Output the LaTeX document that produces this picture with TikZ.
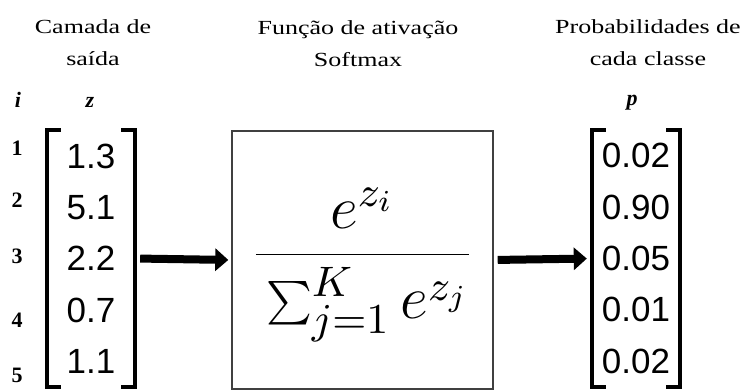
\RequirePackage{fix-cm}
\documentclass[tikz,border=0pt]{standalone}
\usepackage{graphicx}
\usepackage[no-math]{fontspec}
\setmainfont{Liberation Serif}
\newfontfamily\titlefont{Liberation Serif}[FakeStretch=1.3]
\newfontfamily\numfont{Liberation Sans}
\usetikzlibrary{arrows.meta,positioning}

\begin{document}
\begin{tikzpicture}[
    x=1pt, y=1pt,
    title/.style={align=center, inner sep=0pt, anchor=north,
                  font=\titlefont\fontsize{20}{32}\selectfont},
    idx/.style={inner sep=0pt, font=\bfseries\fontsize{22}{22}\selectfont},
    vec/.style={align=center, inner sep=0pt, minimum width=88pt,
                minimum height=257pt, font=\numfont\fontsize{35}{51.3}\selectfont},
    brk/.style={line width=4pt},
    softbox/.style={draw=black!75, line width=1.4pt, minimum width=261pt,
                    minimum height=258pt, inner sep=0pt},
    arrow/.style={-{Triangle[length=13pt,width=22pt]}, line width=8pt}
]
\useasboundingbox (0,0) rectangle (746,390);

% titles
\node[title] (tout)  at (93,371)  {Camada de\\saída};
\node[title] (tsoft) at (358,370) {Função de ativação\\Softmax};
\node[title] (tprob) at (648,371) {Probabilidades de\\cada classe};

% column heads
\node[idx] (hi) at (18,290)  {\itshape i};
\node[idx] (hz) at (90,288)  {\itshape z};
\node[idx] (hp) at (632,287) {\itshape p};

% index numbers
\node[idx] (i1) at (17,242) {1};
\node[idx] (i2) at (17,190) {2};
\node[idx] (i3) at (17,134) {3};
\node[idx] (i4) at (17,70)  {4};
\node[idx] (i5) at (17,15)  {5};

% vectors and softmax box
\node[vec] (zvec) at (91,131.5)  {1.3\\5.1\\2.2\\0.7\\1.1};
\node[softbox] (soft) at (362.5,130) {};
\node[vec] (pvec) at (636,131.5) {0.02\\0.90\\0.05\\0.01\\0.02};
\node[font=\fontsize{14}{16}\selectfont] (frac) at ([yshift=-5pt]soft.center)
    {\scalebox{4.35}{$\displaystyle\frac{e^{z_i}}{\rule{0pt}{13.3pt}\sum_{j=1}^{K} e^{z_j}}$}};

% brackets
\draw[brk] ([xshift=14pt]zvec.north west) -- (zvec.north west)
    -- (zvec.south west) -- ([xshift=14pt]zvec.south west);
\draw[brk] ([xshift=-14pt]zvec.north east) -- (zvec.north east)
    -- (zvec.south east) -- ([xshift=-14pt]zvec.south east);
\draw[brk] ([xshift=14pt]pvec.north west) -- (pvec.north west)
    -- (pvec.south west) -- ([xshift=14pt]pvec.south west);
\draw[brk] ([xshift=-14pt]pvec.north east) -- (pvec.north east)
    -- (pvec.south east) -- ([xshift=-14pt]pvec.south east);

% arrows
\draw[arrow, shorten <=5pt, shorten >=3pt] (zvec.east) -- (soft.west);
\draw[arrow, shorten <=4pt, shorten >=5pt] (soft.east) -- (pvec.west);
\end{tikzpicture}
\end{document}
